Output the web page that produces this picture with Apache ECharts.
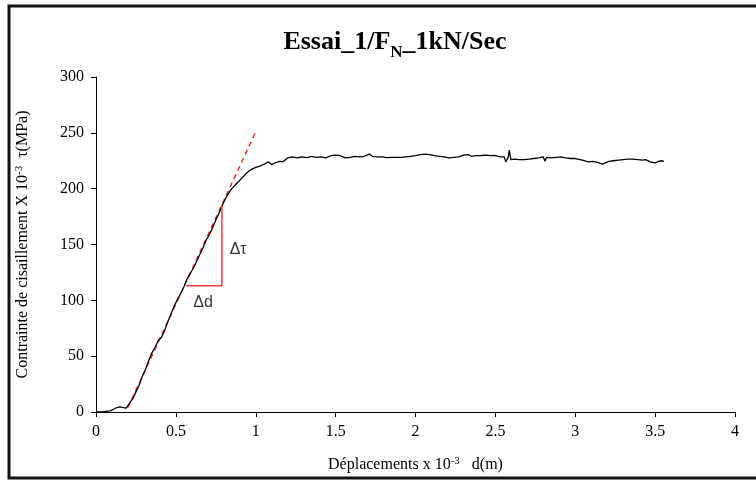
<!DOCTYPE html>
<html><head><meta charset="utf-8">
<script src="https://cdn.jsdelivr.net/npm/echarts@6/dist/echarts.min.js"></script>
<style>html,body{margin:0;padding:0;background:#fff}#c{width:756px;height:480px}</style>
</head><body><div id="c"></div>
<script>
// Measured curve: [displacement (x10^-3 m), shear stress (x10^-3 MPa)]
const curve = [
[0,0],[0.03,0],[0.06,0.5],[0.09,1],[0.11,2.5],[0.13,4],[0.15,4.5],[0.17,4],[0.19,3.5],[0.2,5],
[0.21,8],[0.23,12],[0.25,18],[0.27,24],[0.29,32],[0.31,38],[0.33,46],[0.35,53],[0.37,58],[0.39,64],
[0.41,67],[0.43,73],[0.45,81],[0.47,88],[0.49,95],[0.51,101],[0.53,106],[0.55,112],[0.57,119],[0.59,124],
[0.61,129],[0.63,135],[0.65,141],[0.67,147],[0.69,154],[0.71,159],[0.73,165],[0.75,172],[0.77,178],[0.79,185],
[0.81,191],[0.83,196],[0.85,200],[0.87,203],[0.89,206],[0.91,209],[0.93,212],[0.95,215],[0.97,217],[1.0,219],
[1.03,220.5],[1.06,222.5],[1.08,224],[1.1,221.5],[1.12,223],[1.15,224.5],[1.17,224],[1.2,227.5],[1.23,228.5],[1.26,227.5],
[1.29,228.5],[1.32,227.8],[1.35,229],[1.38,228],[1.41,228.5],[1.44,227.5],[1.47,229.5],[1.5,230],[1.53,229.5],[1.56,227.5],
[1.59,228],[1.62,229],[1.65,228.5],[1.68,229],[1.71,231],[1.73,229],[1.76,228.5],[1.79,228.5],[1.82,227.8],[1.85,228],
[1.88,228],[1.91,228],[1.94,228.5],[1.97,229],[2.0,229.5],[2.03,230.5],[2.06,231],[2.09,230.5],[2.12,229.5],[2.15,229],
[2.18,228.5],[2.21,227.5],[2.24,228],[2.27,228.5],[2.3,230],[2.33,230.5],[2.35,229],[2.38,229.5],[2.41,229.7],[2.44,230],
[2.47,229.5],[2.5,229.7],[2.53,228.5],[2.555,228.5],[2.565,224],[2.58,228],[2.587,234.5],[2.597,226],[2.62,226.5],[2.65,226],
[2.68,226],[2.71,226.5],[2.74,227],[2.77,227.5],[2.8,228.5],[2.81,224.5],[2.82,228],[2.85,227.5],[2.88,228],[2.91,228.5],
[2.94,227.5],[2.97,227],[3.0,227],[3.03,226],[3.06,225],[3.08,224],[3.11,224.5],[3.14,223.5],[3.17,222],[3.18,223.5],
[3.21,224.5],[3.24,225],[3.27,225.5],[3.3,226],[3.33,226.5],[3.36,226.5],[3.39,226],[3.42,225.5],[3.44,226],[3.47,224],
[3.5,223],[3.52,224.5],[3.54,225],[3.555,224.5]
];
// Tangent (elastic slope) line
const tangent = [[0.2,4],[1.0,251]];
// Slope triangle: Δd horizontal then Δτ vertical
const triangle = [[0.564,113],[0.788,113],[0.788,185]];
// Annotation labels
const annotations = [
  {value:[0.89,145], text:'Δτ'},
  {value:[0.67,98], text:'Δd'}
];
const xTicks = {min:0, max:4, interval:0.5};
const yTicks = {min:0, max:300, interval:50};

const chart = echarts.init(document.getElementById('c'));
const serif = 'Liberation Serif';
chart.setOption({
  backgroundColor:'#fff',
  animation:false,
  title:{
    text:'{a|Essai_1/F}{s|N}{a|_1kN/Sec}',
    left:390, top:20, textAlign:'center',
    textStyle:{rich:{
      a:{fontFamily:serif, fontWeight:'bold', fontSize:26, color:'#000', lineHeight:30, verticalAlign:'bottom'},
      s:{fontFamily:serif, fontWeight:'bold', fontSize:17, color:'#000', lineHeight:22, verticalAlign:'bottom', padding:[0,0,-6,0]}
    }}
  },
  grid:{left:96, right:21, top:77, bottom:68},
  xAxis:{
    type:'value', min:xTicks.min, max:xTicks.max, interval:xTicks.interval,
    splitLine:{show:false},
    axisLine:{lineStyle:{color:'#000', width:1}},
    axisTick:{show:true, length:5, lineStyle:{color:'#000'}},
    axisLabel:{fontFamily:serif, fontSize:16, color:'#000', margin:12},
    name:'{a|Déplacements x 10}{sup|-3}{a|   d(m)}',
    nameLocation:'middle', nameGap:44,
    nameTextStyle:{rich:{
      a:{fontFamily:serif, fontSize:16, color:'#000', lineHeight:18},
      sup:{fontFamily:serif, fontSize:11, color:'#000', lineHeight:11, verticalAlign:'top'}
    }}
  },
  yAxis:{
    type:'value', min:yTicks.min, max:yTicks.max, interval:yTicks.interval,
    splitLine:{show:false},
    axisLine:{show:true, lineStyle:{color:'#000', width:1}},
    axisTick:{show:true, length:5, lineStyle:{color:'#000'}},
    axisLabel:{fontFamily:serif, fontSize:16, color:'#000', margin:12},
    name:'{a|Contrainte de cisaillement X 10}{sup|-3}{a|  τ(MPa)}',
    nameLocation:'middle', nameGap:64,
    nameTextStyle:{rich:{
      a:{fontFamily:serif, fontSize:16, color:'#000', lineHeight:18},
      sup:{fontFamily:serif, fontSize:11, color:'#000', lineHeight:11, verticalAlign:'top'}
    }}
  },
  graphic:[{type:'rect', shape:{x:9, y:6, width:760, height:472}, style:{fill:'none', stroke:'#111', lineWidth:3}, silent:true}],
  series:[
    {type:'line', data:tangent, symbol:'none', lineStyle:{color:'#ff1a1a', width:1.4, type:[5,4]}, z:2},
    {type:'line', data:curve, symbol:'none', lineStyle:{color:'#000', width:1.3}, z:3},
    {type:'line', data:triangle, symbol:'none', lineStyle:{color:'#f03c3c', width:1.5}, z:4},
    {type:'scatter', data:annotations.map(a=>({value:a.value, name:a.text})), symbolSize:0,
     label:{show:true, position:'inside', formatter:p=>p.name, fontFamily:'Liberation Sans', fontSize:16, color:'#000'}, z:5}
  ]
});
</script></body></html>
